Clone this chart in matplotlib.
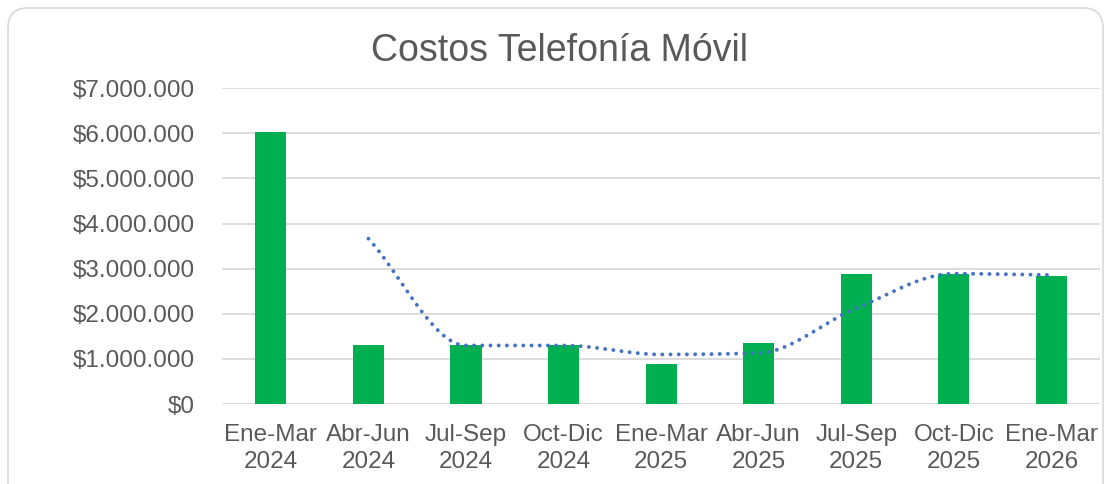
import matplotlib
matplotlib.use("Agg")
import matplotlib.pyplot as plt
from matplotlib.patches import FancyBboxPatch
from matplotlib.ticker import FuncFormatter
import numpy as np

periods = ["Ene-Mar\n2024", "Abr-Jun\n2024", "Jul-Sep\n2024", "Oct-Dic\n2024",
           "Ene-Mar\n2025", "Abr-Jun\n2025", "Jul-Sep\n2025", "Oct-Dic\n2025",
           "Ene-Mar\n2026"]
costs = [6030000, 1300000, 1300000, 1300000, 900000, 1360000, 2890000, 2890000, 2830000]
y_ticks = [0, 1000000, 2000000, 3000000, 4000000, 5000000, 6000000, 7000000]

plt.rcParams["font.family"] = ["Liberation Sans", "DejaVu Sans"]
text_color = "#595959"


def smooth(px, py, n=40):
    # monotone cubic (Fritsch-Carlson) through the points
    px = np.asarray(px, float)
    py = np.asarray(py, float)
    h = np.diff(px)
    d = np.diff(py) / h
    m = np.zeros_like(py)
    m[0], m[-1] = d[0], d[-1]
    for i in range(1, len(py) - 1):
        if d[i - 1] * d[i] > 0:
            w1 = 2 * h[i] + h[i - 1]
            w2 = h[i] + 2 * h[i - 1]
            m[i] = (w1 + w2) / (w1 / d[i - 1] + w2 / d[i])
    xs, ys = [], []
    for i in range(len(px) - 1):
        t = np.linspace(0, 1, n)
        h00 = 2 * t ** 3 - 3 * t ** 2 + 1
        h10 = t ** 3 - 2 * t ** 2 + t
        h01 = -2 * t ** 3 + 3 * t ** 2
        h11 = t ** 3 - t ** 2
        xs.append(px[i] + t * h[i])
        ys.append(h00 * py[i] + h10 * h[i] * m[i] + h01 * py[i + 1] + h11 * h[i] * m[i + 1])
    return np.concatenate(xs), np.concatenate(ys)


fig = plt.figure(figsize=(11.08, 4.84), dpi=100)
ax = fig.add_axes([0.2004, 0.165, 0.7926, 0.653])

x = np.arange(len(costs))
ax.bar(x, costs, width=0.32, color="#00B050", zorder=2)

# moving average, period 2
ma = np.convolve(costs, [0.5, 0.5], mode="valid")
sx, sy = smooth(x[1:], ma)
ax.plot(sx, sy, color="#4472C4", linewidth=2.8,
        linestyle=(0, (0.01, 2.1)), dash_capstyle="round", zorder=3)

ax.set_xlim(-0.5, len(costs) - 0.5)
ax.set_ylim(0, 7000000)
ax.set_yticks(y_ticks)
ax.yaxis.set_major_formatter(FuncFormatter(lambda v, p: "$" + f"{int(v):,}".replace(",", ".")))
ax.set_xticks(x)
ax.set_xticklabels(periods)
ax.grid(axis="y", color="#D9D9D9", linewidth=1.3, zorder=0)
for s in ax.spines.values():
    s.set_visible(False)
ax.tick_params(axis="both", length=0, labelsize=17.5, labelcolor=text_color)
ax.tick_params(axis="y", pad=19.5)
ax.tick_params(axis="x", pad=14)
for lbl in ax.get_xticklabels():
    lbl.set_linespacing(1.3)

fig.text(0.505, 0.895, "Costos Telefonía Móvil", ha="center", va="center",
         fontsize=27, color=text_color)

border = FancyBboxPatch((0.08, -0.3), 10.95, 5.06,
                        boxstyle="round,pad=0,rounding_size=0.2",
                        transform=fig.dpi_scale_trans, facecolor="none",
                        edgecolor="#D9D9D9", linewidth=1.2)
fig.patches.append(border)

fig.savefig("out.png", dpi=100)
